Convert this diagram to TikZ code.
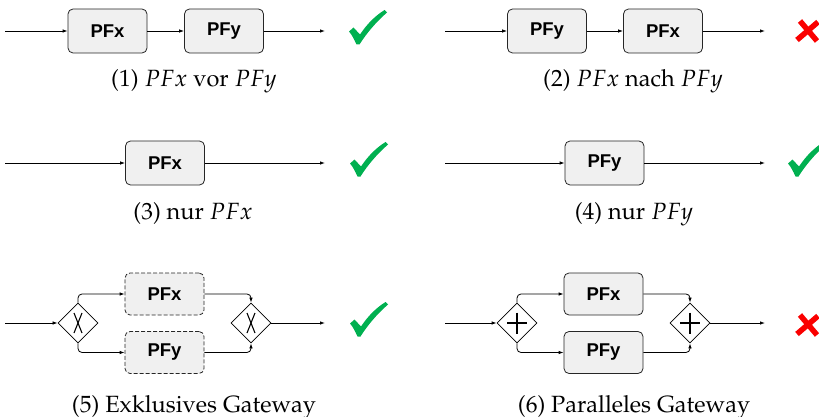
\documentclass[tikz,border=0pt]{standalone}
\usepackage{mathpazo}
\usepackage{fontspec}
\newfontfamily\boxfont{Liberation Sans}
\newcommand\capfont{\fontencoding{OT1}\fontfamily{ppl}\selectfont}
\usetikzlibrary{arrows.meta,shapes.geometric}
\definecolor{okgreen}{RGB}{0,176,80}
\definecolor{badred}{RGB}{250,0,0}
\definecolor{boxfill}{RGB}{240,240,240}
\tikzset{
  proc/.style={draw=black!85, fill=boxfill, line width=0.8, rounded corners=5,
    minimum width=79, minimum height=44, inner sep=0,
    font=\boxfont\bfseries\fontsize{18.5}{18.5}\selectfont},
  optproc/.style={proc, dash pattern=on 4pt off 2pt, minimum height=42},
  gwbox/.style={draw, diamond, line width=0.8, minimum width=40, minimum height=40, inner sep=0, fill=white},
  flow/.style={-{Latex[length=5,width=3.5]}, line width=0.8},
  capt/.style={anchor=base, inner sep=0, font=\capfont\fontsize{23.5}{23.5}\selectfont},
  xsym/.style={line width=1.1},
  psym/.style={line width=2.6},
  okmark/.pic={\fill[okgreen] (0,21.5) -- (4.5,17.5) -- (11,24.5)
     .. controls (18,14) and (26,6) .. (35.5,0) -- (38,2.5)
     .. controls (27,12) and (17,24) .. (10.5,34.5) -- (7.5,34.5)
     .. controls (5,29) and (3,25) .. cycle;},
  badmark/.pic={\draw[badred, line width=5.5] (-8,-10) -- (9,10);
     \draw[badred, line width=5.5] (10,-9) -- (-11,9);}
}
\begin{document}
\begin{tikzpicture}[x=1pt,y=-1pt]
\useasboundingbox (0,0) rectangle (819,417);

% (1)
\coordinate (s1) at (5,31);
\node[proc] (a1) at (107.5,31) {PFx};
\node[proc] (b1) at (224,31) {PFy};
\coordinate (e1) at (325,31);
\draw[flow] (s1) -- (a1);
\draw[flow] (a1) -- (b1);
\draw[flow] (b1) -- (e1);
\pic at (349,10) {okmark};
\node[capt] (c1) at (194,87) {(1) $PFx$ vor $PFy$};

% (2)
\coordinate (s2) at (445,31);
\node[proc] (a2) at (547,31) {PFy};
\node[proc] (b2) at (663,31) {PFx};
\coordinate (e2) at (765,31);
\draw[flow] (s2) -- (a2);
\draw[flow] (a2) -- (b2);
\draw[flow] (b2) -- (e2);
\pic at (808,31) {badmark};
\node[capt] (c2) at (633,87) {(2) $PFx$ nach $PFy$};

% (3)
\coordinate (s3) at (5,163);
\node[proc] (a3) at (165,163) {PFx};
\coordinate (e3) at (325,163);
\draw[flow] (s3) -- (a3);
\draw[flow] (a3) -- (e3);
\pic at (350,142) {okmark};
\node[capt] (c3) at (193,219) {(3) nur $PFx$};

% (4)
\coordinate (s4) at (445,163);
\node[proc] (a4) at (604.5,163) {PFy};
\coordinate (e4) at (765,163);
\draw[flow] (s4) -- (a4);
\draw[flow] (a4) -- (e4);
\pic at (788,142) {okmark};
\node[capt] (c4) at (634,219) {(4) nur $PFy$};

% (5)
\coordinate (s5) at (5,323);
\node[gwbox] (g5) at (78,323) {};
\node[optproc] (x5) at (164.5,294) {PFx};
\node[optproc] (y5) at (164.5,352.5) {PFy};
\node[gwbox] (h5) at (251,323) {};
\coordinate (e5) at (325,323);
\draw[flow] (s5) -- (g5);
\draw[flow, rounded corners=4] (g5.north) |- (x5.west);
\draw[flow, rounded corners=4] (g5.south) |- (y5.west);
\draw[flow, rounded corners=4] (x5.east) -| (h5.north);
\draw[flow, rounded corners=4] (y5.east) -| (h5.south);
\draw[flow] (h5) -- (e5);
\draw[xsym] ([shift={(-4,-10)}]g5.center) -- ([shift={(4,10)}]g5.center);
\draw[xsym] ([shift={(4,-10)}]g5.center) -- ([shift={(-4,10)}]g5.center);
\draw[xsym] ([shift={(-4,-10)}]h5.center) -- ([shift={(4,10)}]h5.center);
\draw[xsym] ([shift={(4,-10)}]h5.center) -- ([shift={(-4,10)}]h5.center);
\pic at (350,302) {okmark};
\node[capt] (c5) at (194,412) {(5) Exklusives Gateway};

% (6)
\coordinate (s6) at (445,323);
\node[gwbox] (g6) at (517,323) {};
\node[proc, minimum height=42] (x6) at (603.5,294) {PFx};
\node[proc, minimum height=42] (y6) at (603.5,352.5) {PFy};
\node[gwbox] (h6) at (690,323) {};
\coordinate (e6) at (765,323);
\draw[flow] (s6) -- (g6);
\draw[flow, rounded corners=4] (g6.north) |- (x6.west);
\draw[flow, rounded corners=4] (g6.south) |- (y6.west);
\draw[flow, rounded corners=4] (x6.east) -| (h6.north);
\draw[flow, rounded corners=4] (y6.east) -| (h6.south);
\draw[flow] (h6) -- (e6);
\draw[psym] ([shift={(-10,0)}]g6.center) -- ([shift={(10,0)}]g6.center);
\draw[psym] ([shift={(0,-10.5)}]g6.center) -- ([shift={(0,10.5)}]g6.center);
\draw[psym] ([shift={(-10,0)}]h6.center) -- ([shift={(10,0)}]h6.center);
\draw[psym] ([shift={(0,-10.5)}]h6.center) -- ([shift={(0,10.5)}]h6.center);
\pic at (808,325) {badmark};
\node[capt] (c6) at (634,412) {(6) Paralleles Gateway};
\end{tikzpicture}
\end{document}
